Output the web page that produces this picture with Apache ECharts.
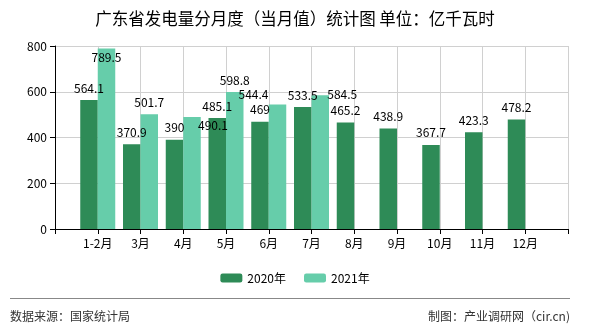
<!DOCTYPE html>
<html>
<head>
<meta charset="utf-8">
<script src="https://cdn.jsdelivr.net/npm/echarts@6/dist/echarts.min.js"></script>
<style>
html,body{margin:0;padding:0;background:#fff;}
#c{width:590px;height:330px;}
</style>
</head>
<body>
<div id="c"></div>
<script>
var titleText = '广东省发电量分月度（当月值）统计图 单位：亿千瓦时';
var categories = ['1-2月','3月','4月','5月','6月','7月','8月','9月','10月','11月','12月'];
var seriesNames = ['2020年','2021年'];
var values2020 = [564.1, 370.9, 390, 485.1, 469, 533.5, 465.2, 438.9, 367.7, 423.3, 478.2];
var values2021 = [789.5, 501.7, 490.1, 598.8, 544.4, 584.5];
var yTicks = [0, 200, 400, 600, 800];
var sourceText = '数据来源：国家统计局';
var creditText = '制图：产业调研网（cir.cn)';

var FONT = '"Noto Sans CJK SC", sans-serif';
var axisCats = [''].concat(categories).concat(['']);
function pad(arr) {
  var out = [null];
  for (var i = 0; i < categories.length; i++) out.push(i < arr.length ? arr[i] : null);
  out.push(null);
  return out;
}
// label adjustments (dataIndex in padded axis) for the 2021 series
var adj2021 = {1: [0, 21], 3: [21, 21], 5: [-24, 2], 6: [22, 11]};

var chart = echarts.init(document.getElementById('c'), null, {renderer: 'canvas'});
chart.setOption({
  animation: false,
  backgroundColor: '#fff',
  title: {
    text: titleText,
    left: 'center',
    top: 5,
    textStyle: {fontFamily: FONT, fontSize: 16.5, fontWeight: 'normal', color: '#000'}
  },
  legend: {
    data: seriesNames,
    left: 'center',
    top: 267,
    itemWidth: 22,
    itemHeight: 9,
    itemGap: 18,
    textStyle: {fontFamily: FONT, fontSize: 12, color: '#000'}
  },
  grid: {left: 55, right: 22, top: 46, bottom: 101},
  xAxis: {
    type: 'category',
    data: axisCats,
    boundaryGap: false,
    axisLine: {lineStyle: {color: '#000', width: 1}},
    axisTick: {show: true, length: 5, alignWithLabel: true, lineStyle: {color: '#000'}},
    axisLabel: {fontFamily: FONT, fontSize: 12, color: '#000', margin: 8, interval: 0},
    splitLine: {show: true, lineStyle: {color: '#d0d0d0'}}
  },
  yAxis: {
    type: 'value',
    min: yTicks[0],
    max: yTicks[yTicks.length - 1],
    interval: yTicks[1] - yTicks[0],
    axisLine: {show: true, lineStyle: {color: '#000'}},
    axisTick: {show: true, length: 5, lineStyle: {color: '#000'}},
    axisLabel: {fontFamily: FONT, fontSize: 12, color: '#000', margin: 8},
    splitLine: {show: true, lineStyle: {color: '#d0d0d0'}}
  },
  series: [
    {
      name: seriesNames[0],
      type: 'bar',
      data: pad(values2020),
      barWidth: 17.5,
      barGap: '0%',
      itemStyle: {color: '#2E8B57'},
      label: {show: true, position: 'top', distance: 6, fontFamily: FONT, fontSize: 12, color: '#000'}
    },
    {
      name: seriesNames[1],
      type: 'bar',
      data: pad(values2021),
      barWidth: 17.5,
      barGap: '0%',
      itemStyle: {color: '#66CDAA'},
      label: {show: true, position: 'top', distance: 6, fontFamily: FONT, fontSize: 12, color: '#000'},
      labelLayout: function (p) {
        var a = adj2021[p.dataIndex];
        if (a) return {dx: a[0], dy: a[1]};
        return {};
      }
    }
  ],
  graphic: [
    {type: 'line', shape: {x1: 10, y1: 298.5, x2: 570, y2: 298.5}, style: {stroke: '#888', lineWidth: 1}},
    {type: 'text', left: 10, top: 310, style: {text: sourceText, font: '12px ' + FONT, fill: '#333'}},
    {type: 'text', right: 20, top: 310, style: {text: creditText, font: '12px ' + FONT, fill: '#333'}}
  ]
});
</script>
</body>
</html>
